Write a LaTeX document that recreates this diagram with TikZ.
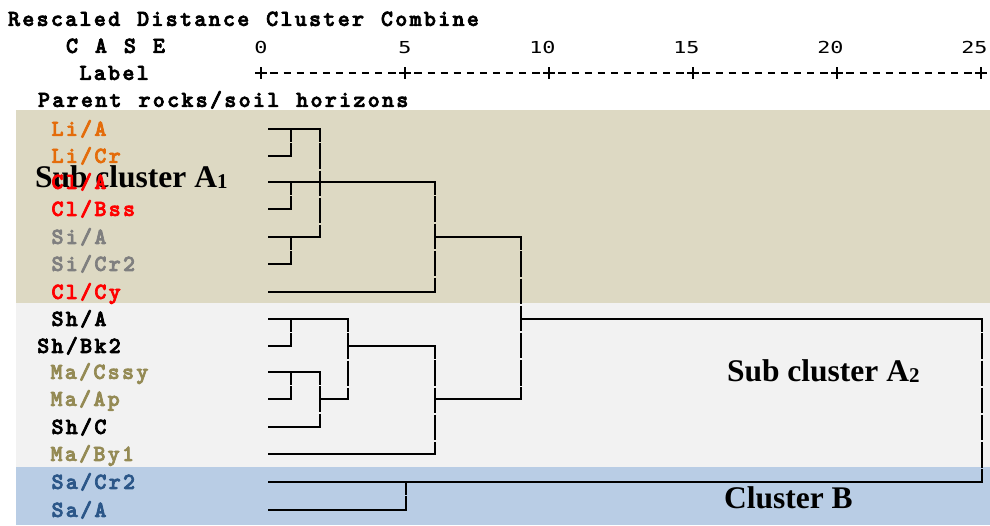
\documentclass[tikz,border=0pt]{standalone}
\usepackage{fontspec}
\usepackage{graphicx}
\setmainfont{Liberation Serif}
% slab-serif typewriter face for the listing text
\newfontfamily\courfam{lmmonolt10-bold}[Extension=.otf, LetterSpace=9.7, WordSpace=1.18, FakeBold=3]
\newfontfamily\axisfam{DejaVu Sans Mono}

\definecolor{bandtan}{HTML}{DDD9C3}
\definecolor{bandgrey}{HTML}{F2F2F2}
\definecolor{bandblue}{HTML}{B9CDE5}
\definecolor{liorange}{HTML}{E46C0A}
\definecolor{clred}{HTML}{FF0000}
\definecolor{sigrey}{HTML}{7F7F7F}
\definecolor{maolive}{HTML}{948A54}
\definecolor{sablue}{HTML}{2B5688}

\newcommand\axisnum[1]{\scalebox{1.32}[1]{\axisfam\fontsize{16.5}{17}\selectfont #1}}
\newcommand\subdigit[1]{{\fontsize{21}{21}\selectfont\raisebox{-1pt}{#1}}}

\tikzset{
  courtxt/.style={inner sep=0pt, outer sep=0pt, anchor=base west,
    font=\courfam\fontsize{23}{24}\selectfont},
  leaf/.style={courtxt},
  clusterlabel/.style={inner sep=0pt, outer sep=0pt, anchor=base west,
    font=\bfseries\fontsize{31.5}{32}\selectfont},
  axisnumber/.style={inner sep=0pt, outer sep=0pt, anchor=base east},
  axisrule/.style={line width=1.5pt, black},
  hline/.style={line width=1.6pt, black, line cap=rect},
  vline/.style={line width=1.6pt, black, line cap=butt,
    dash pattern=on 25.45pt off 1.7pt, dash phase=12.7pt},
}

\begin{document}
\begin{tikzpicture}[x=1pt, y=-1pt]
\useasboundingbox (0,0) rectangle (990,525);

% coloured bands behind the three groups
\fill[bandtan]  (16,110) rectangle (990,303);
\fill[bandgrey] (16,303) rectangle (990,467);
\fill[bandblue] (16,467) rectangle (990,525);

% heading lines
\node[courtxt] (title)  at (8,25.9)  {Rescaled Distance Cluster Combine};
\node[courtxt] (case)   at (66,52.9) {C A S E};
\node[courtxt] (label)  at (79.5,79.9)   {Label};
\node[courtxt] (parent) at (38,106.9) {Parent rocks/soil horizons};

% distance axis: numbers, + ticks and dashes
\foreach \v [count=\k from 0] in {0,5,10,15,20,25} {
  \pgfmathsetmacro{\tx}{261+144*\k}
  \node[axisnumber] (num\k) at (\tx+6.6,53.3) {\axisnum{\v}};
  \draw[axisrule] (\tx-5.85,73) -- (\tx+5.85,73);
  \draw[axisrule] (\tx,67.15) -- (\tx,78.85);
}
\foreach \k in {0,...,4} {
  \foreach \j in {1,...,10} {
    \pgfmathsetmacro{\dx}{261+144*\k+13.09*\j}
    \draw[axisrule, line width=1.3pt] (\dx-3.65,73) -- (\dx+3.65,73);
  }
}

% group captions
\node[clusterlabel] (subA1) at (35,187)  {Sub cluster A\subdigit{1}};
\node[clusterlabel] (subA2) at (727,381) {Sub cluster A\subdigit{2}};
\node[clusterlabel] (clB)   at (724,508.3) {Cluster B};

% leaf line starts, one per row
\foreach \i/\ry in {0/129,1/156,2/182,3/209,4/237,5/264,6/292,7/319,
                    8/346,9/372,10/399,11/427,12/454,13/482,14/510} {
  \coordinate (r\i) at (269,\ry);
}

% case labels, set on the rows
\node[leaf, text=liorange] (l0)  at ([shift={(51.5-269,6.9)}]r0)  {Li/A};
\node[leaf, text=liorange] (l1)  at ([shift={(51.5-269,6.9)}]r1)  {Li/Cr};
\node[leaf, text=clred]    (l2)  at ([shift={(51.5-269,6.9)}]r2)  {Cl/A};
\node[leaf, text=clred]    (l3)  at ([shift={(51.5-269,6.9)}]r3)  {Cl/Bss};
\node[leaf, text=sigrey]   (l4)  at ([shift={(51.5-269,6.9)}]r4)  {Si/A};
\node[leaf, text=sigrey]   (l5)  at ([shift={(51.5-269,6.9)}]r5)  {Si/Cr2};
\node[leaf, text=clred]    (l6)  at ([shift={(51.5-269,6.9)}]r6)  {Cl/Cy};
\node[leaf, text=black]    (l7)  at ([shift={(51.5-269,6.9)}]r7)  {Sh/A};
\node[leaf, text=black]    (l8)  at ([shift={(37.2-269,6.9)}]r8) {Sh/Bk2};
\node[leaf, text=maolive]  (l9)  at ([shift={(50.5-269,6.9)}]r9)  {Ma/Cssy};
\node[leaf, text=maolive]  (l10) at ([shift={(50.5-269,6.9)}]r10) {Ma/Ap};
\node[leaf, text=black]    (l11) at ([shift={(51.5-269,6.9)}]r11) {Sh/C};
\node[leaf, text=maolive]  (l12) at ([shift={(50.5-269,6.9)}]r12) {Ma/By1};
\node[leaf, text=sablue]   (l13) at ([shift={(51.5-269,6.9)}]r13) {Sa/Cr2};
\node[leaf, text=sablue]   (l14) at ([shift={(51.5-269,6.9)}]r14) {Sa/A};

% columns where clusters are joined
\coordinate (c1)  at (291,0);
\coordinate (c2)  at (320,0);
\coordinate (c3)  at (348,0);
\coordinate (c5)  at (406,0);
\coordinate (c6)  at (435,0);
\coordinate (c9)  at (521,0);
\coordinate (c25) at (982,0);

% horizontal branches
\draw[hline] (r0) -- (r0 -| c2);
\draw[hline] (r1) -- (r1 -| c1);
\draw[hline] (r2) -- (r2 -| c6);
\draw[hline] (r3) -- (r3 -| c1);
\draw[hline] (r4) -- (r4 -| c2);
\draw[hline] (r5) -- (r5 -| c1);
\draw[hline] (r6) -- (r6 -| c6);
\draw[hline] (r4 -| c6) -- (r4 -| c9);
\draw[hline] (r7) -- (r7 -| c3);
\draw[hline] (r8) -- (r8 -| c1);
\draw[hline] (r9) -- (r9 -| c2);
\draw[hline] (r10) -- (r10 -| c1);
\draw[hline] (r11) -- (r11 -| c2);
\draw[hline] (r10 -| c2) -- (r10 -| c3);
\draw[hline] (r8 -| c3) -- (r8 -| c6);
\draw[hline] (r12) -- (r12 -| c6);
\draw[hline] (r10 -| c6) -- (r10 -| c9);
\draw[hline] (r7 -| c9) -- (r7 -| c25);
\draw[hline] (r13) -- (r13 -| c25);
\draw[hline] (r14) -- (r14 -| c5);

% vertical joins
\draw[vline] (r0 -| c1) -- (r1 -| c1);
\draw[vline] (r2 -| c1) -- (r3 -| c1);
\draw[vline] (r4 -| c1) -- (r5 -| c1);
\draw[vline] (r7 -| c1) -- (r8 -| c1);
\draw[vline] (r9 -| c1) -- (r10 -| c1);
\draw[vline] (r0 -| c2) -- (r4 -| c2);
\draw[vline] (r9 -| c2) -- (r11 -| c2);
\draw[vline] (r7 -| c3) -- (r10 -| c3);
\draw[vline] (r2 -| c6) -- (r6 -| c6);
\draw[vline] (r8 -| c6) -- (r12 -| c6);
\draw[vline] (r4 -| c9) -- (r10 -| c9);
\draw[vline] (r13 -| c5) -- (r14 -| c5);
\draw[vline] (r7 -| c25) -- (r13 -| c25);
\end{tikzpicture}
\end{document}
